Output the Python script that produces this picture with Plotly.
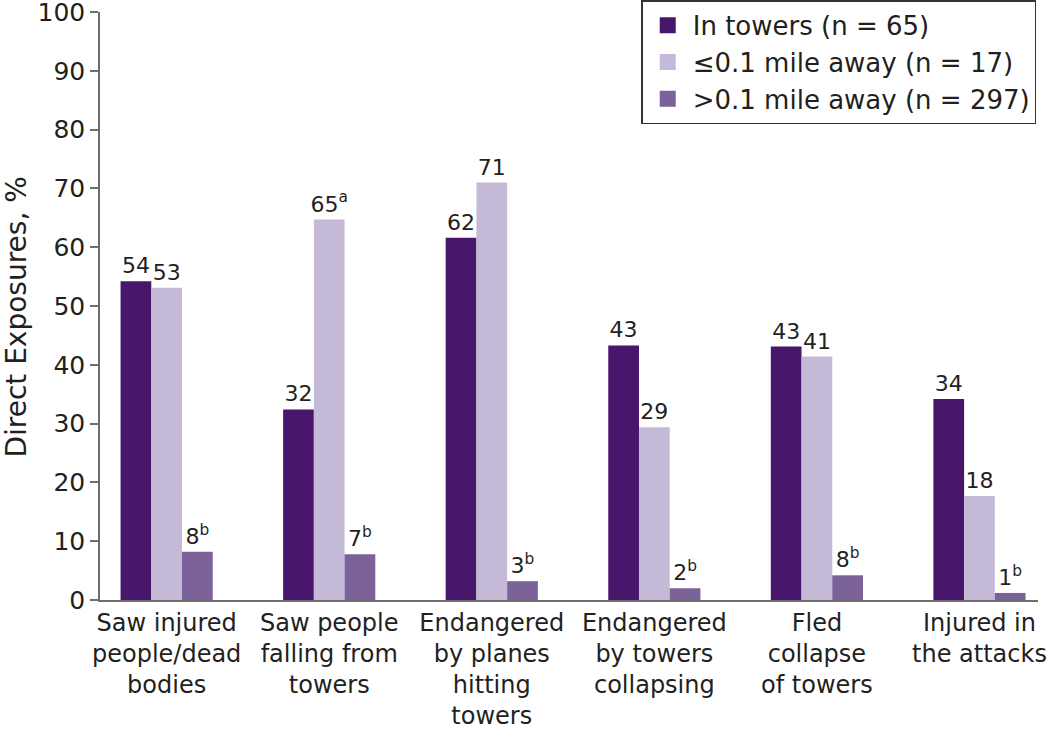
import plotly.graph_objects as go

categories = [
    "Saw injured<br>people/dead<br>bodies",
    "Saw people<br>falling from<br>towers",
    "Endangered<br>by planes<br>hitting<br>towers",
    "Endangered<br>by towers<br>collapsing",
    "Fled<br>collapse<br>of towers",
    "Injured in<br>the attacks",
]
series_names = ["In towers (n = 65)", "\u22640.1 mile away (n = 17)", ">0.1 mile away (n = 297)"]
in_towers = [54.2, 32.4, 61.6, 43.3, 43.1, 34.2]
near = [53.1, 64.7, 71.0, 29.4, 41.4, 17.7]
far = [8.2, 7.8, 3.2, 2.0, 4.2, 1.2]
in_towers_labels = ["54", "32", "62", "43", "43", "34"]
near_labels = ["53", "65<sup>a</sup>", "71", "29", "41", "18"]
far_labels = ["8<sup>b</sup>", "7<sup>b</sup>", "3<sup>b</sup>", "2<sup>b</sup>", "8<sup>b</sup>", "1<sup>b</sup>"]
colors = ["#48166a", "#c4bad8", "#7b6299"]
y_ticks = [0, 10, 20, 30, 40, 50, 60, 70, 80, 90, 100]
y_title = "Direct Exposures, %"

FONT = "DejaVu Sans, Liberation Sans, sans-serif"
TXT = "#231f20"
AX = "#6e6e6e"

fig = go.Figure()
for name, vals, labels, col in zip(series_names, [in_towers, near, far],
                                   [in_towers_labels, near_labels, far_labels], colors):
    fig.add_trace(go.Bar(
        x=categories, y=vals, name=name, marker=dict(color=col, line=dict(width=0)),
        text=labels, textposition="outside", constraintext="none", cliponaxis=False,
        textfont=dict(size=22, color=TXT, family=FONT), hoverinfo="skip",
        showlegend=False,
    ))
# legend entries with larger square swatches
for name, col in zip(series_names, colors):
    fig.add_trace(go.Scatter(
        x=[None], y=[None], mode="markers", name=name,
        marker=dict(symbol="square", size=20, color=col), showlegend=True,
    ))

fig.update_layout(
    width=1050, height=730,
    margin=dict(l=100, r=12, t=12, b=130, autoexpand=False),
    paper_bgcolor="white", plot_bgcolor="white",
    barmode="group", bargap=0.433, bargroupgap=0,
    font=dict(family=FONT, color=TXT),
    showlegend=True,
    legend=dict(
        x=0.577, y=1.02, xanchor="left", yanchor="top",
        font=dict(size=26, color=TXT, family=FONT),
        bordercolor="#333333", borderwidth=1.5, bgcolor="white",
        itemwidth=40, tracegroupgap=0,
    ),
    xaxis=dict(
        range=[-0.41, 5.36], showline=True, linecolor=AX, linewidth=1.5,
        ticks="", tickfont=dict(size=24, color=TXT, family=FONT),
        showgrid=False, zeroline=False, automargin=False,
    ),
    yaxis=dict(
        range=[0, 100], tickvals=y_ticks, showline=True, linecolor=AX, linewidth=1.5,
        ticks="outside", ticklen=8, tickwidth=1.5, tickcolor=AX,
        tickfont=dict(size=25, color=TXT, family=FONT),
        ticklabeloverflow="allow",
        showgrid=False, zeroline=False, automargin=False,
    ),
    annotations=[dict(
        text=y_title, textangle=-90, xref="paper", yref="paper",
        x=-0.0885, y=0.482, xanchor="center", yanchor="middle", showarrow=False,
        font=dict(size=28, color=TXT, family=FONT),
    )],
)

fig.write_html("out.html", config={"displayModeBar": False},
               post_script="document.body.style.margin='0';")
